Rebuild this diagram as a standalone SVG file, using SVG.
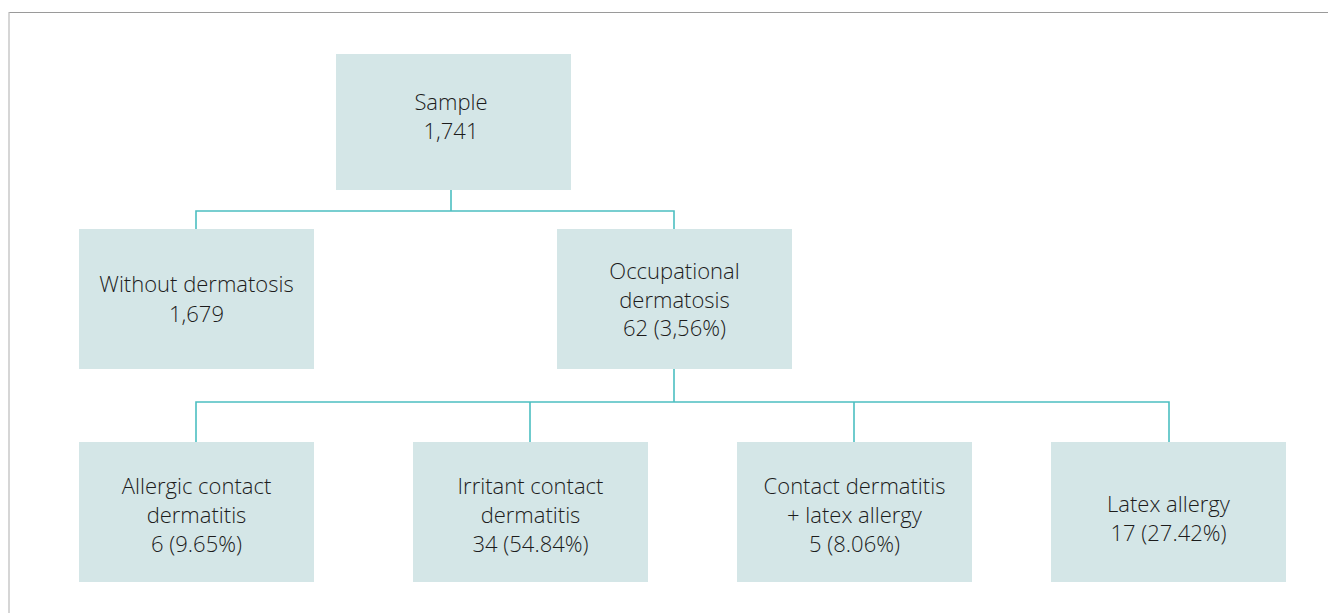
<svg xmlns="http://www.w3.org/2000/svg" width="1328" height="613" viewBox="0 0 1328 613">
<style>
.box{fill:#d4e6e7;}
.t{font-family:"Open Sans","Liberation Sans",sans-serif;font-weight:300;font-size:22px;fill:#1c1c1c;text-anchor:middle;}
.c{stroke:#4cbfc1;stroke-width:1.6;fill:none;}
</style>
<rect x="0" y="0" width="1328" height="613" fill="#ffffff"/>
<g id="frame">
<line x1="9" y1="12.5" x2="1328" y2="12.5" stroke="#9a9a9a" stroke-width="1.2"/>
<line x1="9" y1="12" x2="9" y2="613" stroke="#bbbbbb" stroke-width="1.2"/>
</g>
<g id="connectors">
<path class="c" d="M451,190 V211 M196,229 V211 H674 V229"/>
<path class="c" d="M674,369 V402 M196,442 V402 H1169 V442 M530,402 V442 M854,402 V442"/>
</g>
<g id="sample">
<rect class="box" x="336" y="54" width="235" height="136"/>
<text class="t" x="451" y="110">Sample</text>
<text class="t" x="451" y="139">1,741</text>
</g>
<g id="without">
<rect class="box" x="79" y="229" width="235" height="140"/>
<text class="t" x="196.5" y="292">Without dermatosis</text>
<text class="t" x="196.5" y="322">1,679</text>
</g>
<g id="occupational">
<rect class="box" x="557" y="229" width="235" height="140"/>
<text class="t" x="674.5" y="279">Occupational</text>
<text class="t" x="674.5" y="308">dermatosis</text>
<text class="t" x="674.5" y="336">62 (3,56%)</text>
</g>
<g id="allergic">
<rect class="box" x="79" y="442" width="235" height="140"/>
<text class="t" x="196.5" y="494">Allergic contact</text>
<text class="t" x="196.5" y="523">dermatitis</text>
<text class="t" x="196.5" y="552">6 (9.65%)</text>
</g>
<g id="irritant">
<rect class="box" x="413" y="442" width="235" height="140"/>
<text class="t" x="530.5" y="494">Irritant contact</text>
<text class="t" x="530.5" y="523">dermatitis</text>
<text class="t" x="530.5" y="552">34 (54.84%)</text>
</g>
<g id="contact-latex">
<rect class="box" x="737" y="442" width="235" height="140"/>
<text class="t" x="854.5" y="494">Contact dermatitis</text>
<text class="t" x="854.5" y="523">+ latex allergy</text>
<text class="t" x="854.5" y="552">5 (8.06%)</text>
</g>
<g id="latex">
<rect class="box" x="1051" y="442" width="235" height="140"/>
<text class="t" x="1168.5" y="512">Latex allergy</text>
<text class="t" x="1168.5" y="541">17 (27.42%)</text>
</g>
</svg>
